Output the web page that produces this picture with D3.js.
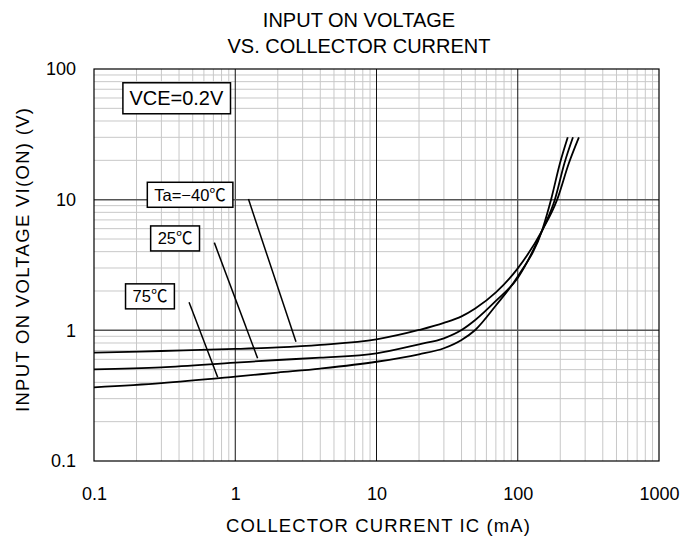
<!DOCTYPE html>
<html>
<head>
<meta charset="utf-8">
<script src="https://cdn.jsdelivr.net/npm/d3@7"></script>
<style>
  body { margin: 0; background: #fff; }
  svg text { font-family: "Liberation Sans", Arial, "Noto Sans CJK JP", sans-serif; fill: #000; }
</style>
</head>
<body>
<svg id="chart"></svg>
<script>
// collector current (mA) and input on voltage (V)
const currentM40 = [0.1, 0.3, 1, 2, 4, 10, 20, 30, 40, 50, 70, 100, 150, 190, 230, 271];
const voltageM40 = [0.674, 0.695, 0.72, 0.741, 0.775, 0.853, 1.006, 1.14, 1.28, 1.47, 1.95, 2.98, 5.9, 10, 19, 30];

const current25 = [0.1, 0.3, 1, 2, 4, 10, 20, 30, 40, 50, 70, 100, 150, 183, 214, 246];
const voltage25 = [0.503, 0.521, 0.566, 0.593, 0.618, 0.667, 0.782, 0.869, 1.006, 1.2, 1.68, 2.52, 5.9, 10, 19, 30];

const current75 = [0.1, 0.3, 1, 2, 4, 10, 20, 30, 40, 50, 70, 100, 150, 172, 199, 226];
const voltage75 = [0.366, 0.394, 0.442, 0.475, 0.51, 0.575, 0.656, 0.729, 0.844, 1.006, 1.55, 2.58, 6.0, 10, 19, 30];

const xTicks = [0.1, 1, 10, 100, 1000];
const yTicks = [0.1, 1, 10, 100];

// label boxes: text, centre of the label, leader line start / end (data units)
const labelNames = ["Ta=−40℃", "25℃", "75℃"];
const labelAt = [[0.479, 10.9], [0.375, 5.05], [0.249, 1.82]];
const leaderFrom = [[1.24, 10.1], [0.711, 4.69], [0.471, 1.64]];
const leaderTo = [[2.69, 0.818], [1.44, 0.611], [0.751, 0.438]];

const config = {
    containerWidth: 682,
    containerHeight: 538,
    margin: {top: 69, right: 23, bottom: 77, left: 94}
};

const width = config.containerWidth - config.margin.left - config.margin.right;
const height = config.containerHeight - config.margin.top - config.margin.bottom;

const svg = d3.select("#chart")
    .attr("width", config.containerWidth)
    .attr("height", config.containerHeight);

const chart = svg.append("g")
    .attr("transform", `translate(${config.margin.left},${config.margin.top})`);

const xScale = d3.scaleLog().domain([0.1, 1000]).range([0, width]);
const yScale = d3.scaleLog().domain([0.1, 100]).range([height, 0]);

// minor grid (2..9 in every decade)
const minorX = [];
const minorY = [];
for (let d = 0.1; d < 1000; d *= 10) {
    for (let k = 2; k <= 9; k++) minorX.push(d * k);
}
for (let d = 0.1; d < 100; d *= 10) {
    for (let k = 2; k <= 9; k++) minorY.push(d * k);
}

chart.append("g").selectAll("line")
    .data(minorX)
    .join("line")
    .attr("x1", d => xScale(d)).attr("x2", d => xScale(d))
    .attr("y1", 0).attr("y2", height)
    .attr("stroke", "#c8c8c8").attr("stroke-width", 1);

chart.append("g").selectAll("line")
    .data(minorY)
    .join("line")
    .attr("x1", 0).attr("x2", width)
    .attr("y1", d => yScale(d)).attr("y2", d => yScale(d))
    .attr("stroke", "#c8c8c8").attr("stroke-width", 1);

// decade lines
chart.append("g").selectAll("line")
    .data(xTicks.slice(1, -1))
    .join("line")
    .attr("x1", d => xScale(d)).attr("x2", d => xScale(d))
    .attr("y1", 0).attr("y2", height)
    .attr("stroke", "#111").attr("stroke-width", 1);

chart.append("g").selectAll("line")
    .data(yTicks.slice(1, -1))
    .join("line")
    .attr("x1", 0).attr("x2", width)
    .attr("y1", d => yScale(d)).attr("y2", d => yScale(d))
    .attr("stroke", "#555").attr("stroke-width", 1.5);

// frame
chart.append("rect")
    .attr("width", width).attr("height", height)
    .attr("fill", "none").attr("stroke", "#000").attr("stroke-width", 1.2);

// axes (labels only)
const xAxis = d3.axisBottom(xScale).tickValues(xTicks).tickFormat(d3.format("")).tickSize(0).tickPadding(26);
const yAxis = d3.axisLeft(yScale).tickValues(yTicks).tickFormat(d3.format("")).tickSize(0).tickPadding(18);

chart.append("g")
    .attr("transform", `translate(0,${height})`)
    .call(xAxis)
    .call(g => g.select(".domain").remove())
    .selectAll("text").attr("font-size", 18).attr("font-family", "Liberation Sans, Arial, sans-serif");

chart.append("g")
    .call(yAxis)
    .call(g => g.select(".domain").remove())
    .selectAll("text").attr("font-size", 18).attr("font-family", "Liberation Sans, Arial, sans-serif");

// curves
const series = [
    d3.zip(currentM40, voltageM40),
    d3.zip(current25, voltage25),
    d3.zip(current75, voltage75)
];

const line = d3.line()
    .x(d => xScale(d[0]))
    .y(d => yScale(d[1]))
    .curve(d3.curveMonotoneX);

chart.append("g").selectAll("path")
    .data(series)
    .join("path")
    .attr("d", line)
    .attr("fill", "none")
    .attr("stroke", "#000")
    .attr("stroke-width", 1.8);

// leader lines
chart.append("g").selectAll("line")
    .data(d3.range(labelNames.length))
    .join("line")
    .attr("x1", i => xScale(leaderFrom[i][0])).attr("y1", i => yScale(leaderFrom[i][1]))
    .attr("x2", i => xScale(leaderTo[i][0])).attr("y2", i => yScale(leaderTo[i][1]))
    .attr("stroke", "#000").attr("stroke-width", 1.5);

// boxed labels
function boxedLabel(g, text, x, y, size, padX, padY) {
    const t = g.append("text")
        .attr("x", x).attr("y", y)
        .attr("text-anchor", "middle")
        .attr("dominant-baseline", "central")
        .attr("font-size", size)
        .text(text);
    const bb = t.node().getBBox();
    g.insert("rect", "text")
        .attr("x", bb.x - padX).attr("y", bb.y - padY)
        .attr("width", bb.width + 2 * padX).attr("height", bb.height + 2 * padY)
        .attr("fill", "#fff").attr("stroke", "#000").attr("stroke-width", 1.5);
}

labelNames.forEach((name, i) => {
    boxedLabel(chart.append("g"), name, xScale(labelAt[i][0]), yScale(labelAt[i][1]), 16.5, 7, 3.5);
});
boxedLabel(chart.append("g"), "VCE=0.2V", xScale(0.383), yScale(59.7), 20, 6.5, 4.5);

// titles
const titleX = 359;
svg.append("text")
    .attr("x", titleX).attr("y", 27)
    .attr("text-anchor", "middle").attr("font-size", 20)
    .text("INPUT ON VOLTAGE");
svg.append("text")
    .attr("x", titleX).attr("y", 53)
    .attr("text-anchor", "middle").attr("font-size", 20)
    .text("VS. COLLECTOR CURRENT");

svg.append("text")
    .attr("x", 378).attr("y", 532)
    .attr("text-anchor", "middle").attr("font-size", 18.5)
    .attr("textLength", 304).attr("lengthAdjust", "spacing")
    .text("COLLECTOR CURRENT IC (mA)");

svg.append("text")
    .attr("transform", `translate(29,260) rotate(-90)`)
    .attr("text-anchor", "middle").attr("font-size", 18.5)
    .attr("textLength", 304).attr("lengthAdjust", "spacing")
    .text("INPUT ON VOLTAGE VI(ON) (V)");
</script>
</body>
</html>
